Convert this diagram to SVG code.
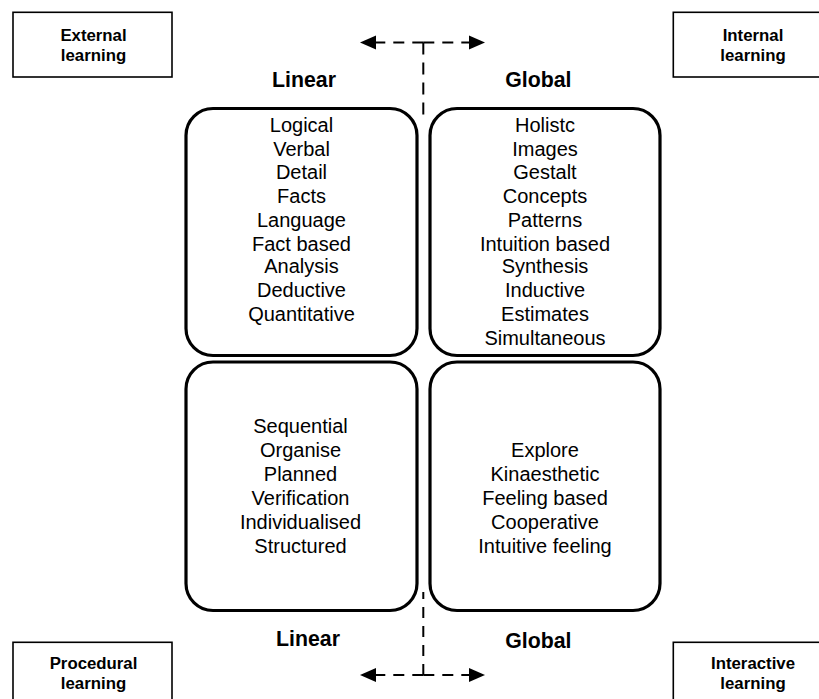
<svg xmlns="http://www.w3.org/2000/svg" width="819" height="699" viewBox="0 0 819 699">
<style>
.bg{fill:#fff}
.corner{fill:#fff;stroke:#000;stroke-width:1.6}
.quad{fill:#fff;stroke:#000;stroke-width:3.2}
.ct{font-family:"Liberation Sans",Arial,sans-serif;font-weight:bold;font-size:16.8px;text-anchor:middle;fill:#000}
.hd{font-family:"Liberation Sans",Arial,sans-serif;font-weight:bold;font-size:21.3px;text-anchor:middle;fill:#000}
.bt{font-family:"Liberation Sans",Arial,sans-serif;font-size:20px;text-anchor:middle;fill:#000}
.dash{stroke:#000;stroke-width:2;fill:none;stroke-dasharray:11 8}
.dashv{stroke:#000;stroke-width:2;fill:none;stroke-dasharray:12 8}
.head{fill:#000}
</style>
<rect class="bg" x="0" y="0" width="819" height="699"/>

<g id="connectors">
  <line class="dash" x1="423.3" y1="42.5" x2="372" y2="42.5"/>
  <line class="dash" x1="423.3" y1="42.5" x2="474" y2="42.5"/>
  <line class="dashv" x1="423.3" y1="42.5" x2="423.3" y2="118"/>
  <polygon class="head" points="360,42.5 376,35.5 376,49.5"/>
  <polygon class="head" points="485,42.5 469,35.5 469,49.5"/>
  <line class="dash" x1="423.3" y1="675" x2="372" y2="675"/>
  <line class="dash" x1="423.3" y1="675" x2="474" y2="675"/>
  <line class="dash" x1="423.3" y1="675" x2="423.3" y2="592"/>
  <polygon class="head" points="360,675 376,668 376,682"/>
  <polygon class="head" points="485,675 469,668 469,682"/>
</g>

<g id="external-learning">
  <rect class="corner" x="13" y="12.3" width="159" height="64.7"/>
  <text class="ct" x="93.5" y="40.7">External</text>
  <text class="ct" x="93.5" y="61">learning</text>
</g>
<g id="internal-learning">
  <rect class="corner" x="673.3" y="12.3" width="159" height="64.7"/>
  <text class="ct" x="753" y="40.7">Internal</text>
  <text class="ct" x="753" y="61">learning</text>
</g>
<g id="procedural-learning">
  <rect class="corner" x="13" y="642.3" width="159" height="64.7"/>
  <text class="ct" x="93.5" y="669.3">Procedural</text>
  <text class="ct" x="93.5" y="688.5">learning</text>
</g>
<g id="interactive-learning">
  <rect class="corner" x="673.3" y="642.3" width="159" height="64.7"/>
  <text class="ct" x="753" y="669.3">Interactive</text>
  <text class="ct" x="753" y="688.5">learning</text>
</g>

<g id="heading-linear-top"><text class="hd" x="304" y="87.3">Linear</text></g>
<g id="heading-global-top"><text class="hd" x="538.3" y="87.3">Global</text></g>
<g id="heading-linear-bottom"><text class="hd" x="308" y="645.5">Linear</text></g>
<g id="heading-global-bottom"><text class="hd" x="538.3" y="648">Global</text></g>

<g id="linear-top">
  <rect class="quad" x="186" y="108.5" width="231" height="247" rx="27" ry="27"/>
  <text class="bt" x="301.5" y="131.7">Logical</text>
  <text class="bt" x="301.5" y="155.7">Verbal</text>
  <text class="bt" x="301.5" y="179.3">Detail</text>
  <text class="bt" x="301.5" y="203.3">Facts</text>
  <text class="bt" x="301.5" y="227.3">Language</text>
  <text class="bt" x="301.5" y="251.3">Fact based</text>
  <text class="bt" x="301.5" y="273">Analysis</text>
  <text class="bt" x="301.5" y="296.7">Deductive</text>
  <text class="bt" x="301.5" y="320.7">Quantitative</text>
</g>

<g id="global-top">
  <rect class="quad" x="430" y="108.5" width="230" height="247" rx="27" ry="27"/>
  <text class="bt" x="545" y="131.7">Holistc</text>
  <text class="bt" x="545" y="155.7">Images</text>
  <text class="bt" x="545" y="179.3">Gestalt</text>
  <text class="bt" x="545" y="203.3">Concepts</text>
  <text class="bt" x="545" y="227.3">Patterns</text>
  <text class="bt" x="545" y="251.3">Intuition based</text>
  <text class="bt" x="545" y="273">Synthesis</text>
  <text class="bt" x="545" y="296.7">Inductive</text>
  <text class="bt" x="545" y="320.7">Estimates</text>
  <text class="bt" x="545" y="344.7">Simultaneous</text>
</g>

<g id="linear-bottom">
  <rect class="quad" x="186" y="362" width="231" height="248.5" rx="27" ry="27"/>
  <text class="bt" x="300.5" y="433.3">Sequential</text>
  <text class="bt" x="300.5" y="457.3">Organise</text>
  <text class="bt" x="300.5" y="481.3">Planned</text>
  <text class="bt" x="300.5" y="505.3">Verification</text>
  <text class="bt" x="300.5" y="529.3">Individualised</text>
  <text class="bt" x="300.5" y="553.3">Structured</text>
</g>

<g id="global-bottom">
  <rect class="quad" x="430" y="362" width="230" height="248.5" rx="27" ry="27"/>
  <text class="bt" x="545" y="457.3">Explore</text>
  <text class="bt" x="545" y="481.3">Kinaesthetic</text>
  <text class="bt" x="545" y="505.3">Feeling based</text>
  <text class="bt" x="545" y="529.3">Cooperative</text>
  <text class="bt" x="545" y="553.3">Intuitive feeling</text>
</g>
</svg>
